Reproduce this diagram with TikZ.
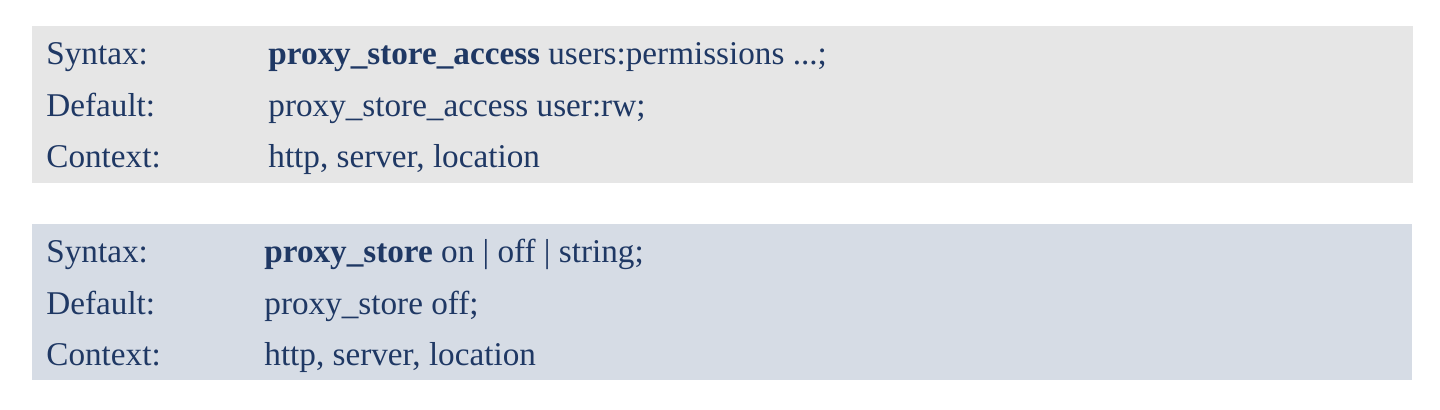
\documentclass[tikz,border=0pt]{standalone}
\usepackage{fontspec}
\setmainfont{Liberation Serif}
\usetikzlibrary{calc}
\definecolor{navy}{HTML}{1F3864}
\definecolor{greybox}{HTML}{E6E6E6}
\definecolor{bluebox}{HTML}{D6DCE5}
\tikzset{
	lbl/.style={anchor=base west,inner sep=0pt,text=navy,font=\fontsize{16.6pt}{20pt}\selectfont},
	val/.style={lbl},
}
\begin{document}
\begin{tikzpicture}[x=0.5pt,y=-0.5pt]
		\useasboundingbox (0,0) rectangle (1440,409);
		\fill[greybox] (32,26) rectangle (1413,183);
		\fill[bluebox] (32,224) rectangle (1412,380);
		%
		\node[lbl] (syn1) at (46,64) {Syntax:};
		\node[lbl] (def1) at (46,116) {Default:};
		\node[lbl] (ctx1) at (46,167) {Context:};
		\node[val] (syn1v) at ($(syn1.base west)+(222,0)$) {\textbf{proxy\_store\_access} users:permissions ...;};
		\node[val] (def1v) at ($(def1.base west)+(222,0)$) {proxy\_store\_access user:rw;};
		\node[val] (ctx1v) at ($(ctx1.base west)+(222,0)$) {http, server, location};
		%
		\node[lbl] (syn2) at (46,262) {Syntax:};
		\node[lbl] (def2) at (46,314) {Default:};
		\node[lbl] (ctx2) at (46,365) {Context:};
		\node[val] (syn2v) at ($(syn2.base west)+(218,0)$) {\textbf{proxy\_store} on | off | string;};
		\node[val] (def2v) at ($(def2.base west)+(218,0)$) {proxy\_store off;};
		\node[val] (ctx2v) at ($(ctx2.base west)+(218,0)$) {http, server, location};
	\end{tikzpicture}
\end{document}
